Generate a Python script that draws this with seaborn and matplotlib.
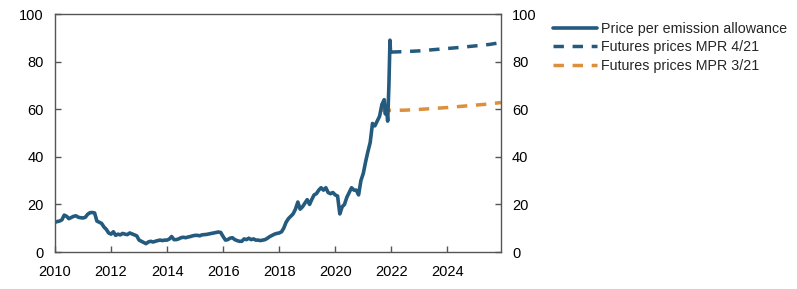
import numpy as np
import pandas as pd
import matplotlib
matplotlib.use("Agg")
import matplotlib.pyplot as plt
import matplotlib.dates as mdates
import seaborn as sns

# ---- data ----
price_dates = list(pd.date_range("2010-01-01", "2021-10-01", freq="MS").strftime("%Y-%m-%d")) + [
    "2021-10-15", "2021-11-01", "2021-11-15", "2021-12-01", "2021-12-08", "2021-12-15", "2021-12-22", "2021-12-28"]
price_values = [
    12.5, 12.8, 13.0, 13.5, 15.5, 15.0, 14.0, 14.5, 15.0, 15.2, 14.6, 14.4,   # 2010
    14.3, 14.6, 15.8, 16.5, 16.6, 16.4, 13.0, 12.5, 12.0, 10.5, 9.5, 8.0,     # 2011
    7.5, 8.5, 7.0, 7.5, 7.2, 7.8, 7.5, 7.3, 8.0, 7.6, 7.2, 6.8,               # 2012
    5.0, 4.5, 4.0, 3.5, 4.2, 4.5, 4.2, 4.5, 4.8, 5.0, 4.8, 5.0,               # 2013
    5.0, 5.5, 6.5, 5.2, 5.2, 5.5, 6.0, 6.2, 6.0, 6.3, 6.5, 6.8,               # 2014
    7.0, 7.0, 6.8, 7.2, 7.3, 7.4, 7.6, 7.8, 8.0, 8.2, 8.4, 8.2,               # 2015
    6.5, 5.0, 5.2, 5.8, 6.0, 5.2, 4.8, 4.5, 4.5, 5.5, 5.2, 5.8,               # 2016
    5.2, 5.5, 5.0, 5.0, 4.8, 5.0, 5.2, 5.8, 6.5, 7.0, 7.5, 7.8,               # 2017
    8.0, 8.5, 10.0, 12.5, 14.0, 15.0, 16.0, 18.0, 21.0, 18.0, 19.0, 20.5,     # 2018
    22.0, 20.0, 22.0, 24.0, 24.5, 26.0, 27.0, 26.0, 27.0, 25.0, 24.5, 25.0,   # 2019
    24.0, 23.5, 16.0, 19.0, 20.0, 23.0, 25.0, 27.0, 26.0, 26.0, 24.0, 30.0,   # 2020
    33.0, 38.0, 42.0, 46.0, 54.0, 53.0, 55.0, 57.0, 62.0, 64.0,               # 2021 Jan-Oct
    58.0, 60.0, 55.0, 70.0, 80.0, 89.0, 84.0, 84.0]

fut421_dates = ["2021-12-28", "2022-06-30", "2022-12-31", "2023-06-30", "2023-12-31",
                "2024-06-30", "2024-12-31", "2025-06-30", "2025-12-01"]
fut421_values = [84.0, 84.2, 84.5, 85.0, 85.5, 86.0, 86.6, 87.2, 88.0]

fut321_dates = ["2021-08-15", "2021-12-31", "2022-06-30", "2022-12-31", "2023-06-30",
                "2023-12-31", "2024-06-30", "2024-12-31", "2025-06-30", "2025-12-01"]
fut321_values = [59.6, 59.5, 59.6, 59.9, 60.3, 60.7, 61.2, 61.7, 62.2, 62.8]

labels = ["Price per emission allowance", "Futures prices MPR 4/21", "Futures prices MPR 3/21"]
y_ticks = [0, 20, 40, 60, 80, 100]
x_tick_years = [2010, 2012, 2014, 2016, 2018, 2020, 2022, 2024]

blue = "#245a7d"
orange = "#dc8f3c"

sns.set_theme(style="white")
plt.rcParams["font.family"] = ["Liberation Sans", "DejaVu Sans"]

df_p = pd.DataFrame({"date": pd.to_datetime(price_dates), "v": price_values})
df_4 = pd.DataFrame({"date": pd.to_datetime(fut421_dates), "v": fut421_values})
df_3 = pd.DataFrame({"date": pd.to_datetime(fut321_dates), "v": fut321_values})

fig = plt.figure(figsize=(7.97, 2.89), dpi=100)
ax = fig.add_axes([55 / 797, 1 - 252 / 289, (501 - 55) / 797, (252 - 14) / 289])

sns.lineplot(data=df_3, x="date", y="v", ax=ax, color=orange, lw=2.5,
             linestyle=(0, (3, 2.5)), label=labels[2])
sns.lineplot(data=df_p, x="date", y="v", ax=ax, color=blue, lw=2.6, label=labels[0])
sns.lineplot(data=df_4, x="date", y="v", ax=ax, color=blue, lw=2.5,
             linestyle=(0, (3, 2.5)), label=labels[1])

ax.set_xlim(pd.Timestamp("2010-01-01"), pd.Timestamp("2025-12-01"))
ax.set_ylim(0, 100)
ax.set_xlabel("")
ax.set_ylabel("")
ax.set_xticks([pd.Timestamp(f"{y}-01-01") for y in x_tick_years])
ax.xaxis.set_major_formatter(mdates.DateFormatter("%Y"))
ax.set_yticks(y_ticks)

for s in ax.spines.values():
    s.set_visible(True)
    s.set_color("#555555")
    s.set_linewidth(1.0)

ax.tick_params(axis="both", direction="in", length=4, width=1, color="#555555",
               labelsize=10.5, labelcolor="black")
ax.tick_params(axis="y", left=True, right=True, labelleft=True, labelright=True, pad=8)
ax.tick_params(axis="x", bottom=True, pad=9)

handles, labs = ax.get_legend_handles_labels()
order = [labs.index(l) for l in labels]
ax.get_legend().remove()
fig.legend([handles[i] for i in order], [labs[i] for i in order],
           loc="upper left", bbox_to_anchor=(553 / 797, 1 - 22 / 289), frameon=False,
           fontsize=10.3, handlelength=3.1, handletextpad=0.25, labelspacing=0.3,
           borderaxespad=0, borderpad=0)

fig.savefig("out.png", dpi=100)
